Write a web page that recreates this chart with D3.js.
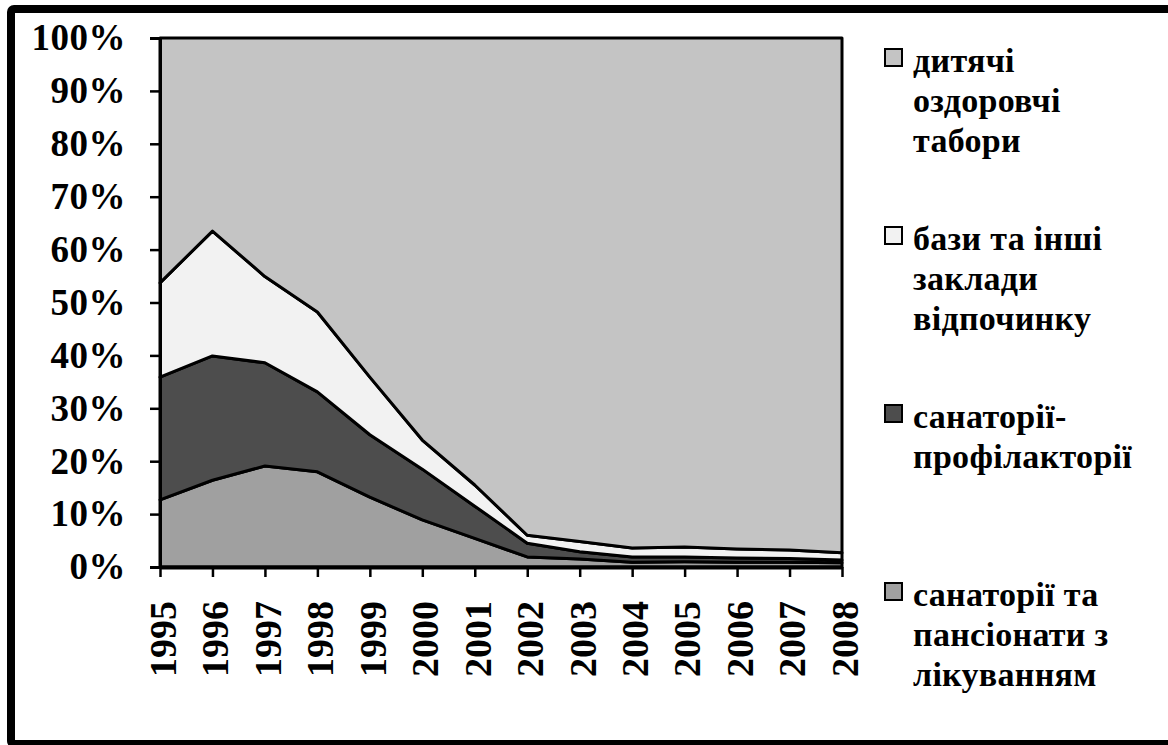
<!DOCTYPE html>
<html>
<head>
<meta charset="utf-8">
<script src="https://cdn.jsdelivr.net/npm/d3@7"></script>
<style>
  body { margin: 0; background: #fff; }
  svg { display: block; }
</style>
</head>
<body>
<svg id="chart" width="1168" height="745"></svg>
<script>
// values, % share of each type by year
var years = ["1995","1996","1997","1998","1999","2000","2001","2002","2003","2004","2005","2006","2007","2008"];
var sanatorii     = [12.7, 16.4, 19.1, 18.0, 13.2, 8.9, 5.4, 1.9, 1.5, 0.9, 1.0, 0.9, 0.9, 0.8];
var profilaktorii = [23.2, 23.5, 19.5, 15.1, 11.8, 9.6, 6.1, 2.6, 1.4, 1.0, 0.9, 0.8, 0.7, 0.5];
var bazy          = [17.8, 23.6, 16.3, 15.1, 10.9, 5.5, 4.0, 1.5, 1.9, 1.7, 1.9, 1.7, 1.6, 1.4];
var tabory        = [46.3, 36.5, 45.1, 51.8, 64.1, 76.0, 84.5, 94.0, 95.2, 96.4, 96.2, 96.6, 96.8, 97.3];

var keys = ["sanatorii", "profilaktorii", "bazy", "tabory"];
var colors = { sanatorii: "#a0a0a0", profilaktorii: "#4d4d4d", bazy: "#f2f2f2", tabory: "#c4c4c4" };
var legendLabels = {
    tabory: ["дитячі", "оздоровчі", "табори"],
    bazy: ["бази та  інші", "заклади", "відпочинку"],
    profilaktorii: ["санаторії-", "профілакторії"],
    sanatorii: ["санаторії та", "пансіонати з", "лікуванням"]
};
var font = "'Liberation Serif'";

var rows = years.map(function(y, i) {
    return { year: y, sanatorii: sanatorii[i], profilaktorii: profilaktorii[i], bazy: bazy[i], tabory: tabory[i] };
});

var svg = d3.select("#chart");

// outer frame
svg.append("rect")
    .attr("x", 11).attr("y", 9)
    .attr("width", 1170).attr("height", 735)
    .attr("rx", 3)
    .attr("fill", "#fff")
    .attr("stroke", "#000")
    .attr("stroke-width", 8);

var x = d3.scalePoint().domain(years).range([160, 842]);
var y = d3.scaleLinear().domain([0, 1]).range([567, 38]);

var series = d3.stack().keys(keys).offset(d3.stackOffsetExpand)(rows);

var area = d3.area()
    .x(function(d) { return x(d.data.year); })
    .y0(function(d) { return y(d[0]); })
    .y1(function(d) { return y(d[1]); });

svg.append("g").selectAll("path")
    .data(series)
    .join("path")
    .attr("d", area)
    .attr("fill", function(d) { return colors[d.key]; })
    .attr("stroke", "#000")
    .attr("stroke-width", 3)
    .attr("stroke-linejoin", "round");

// y axis
var yAxis = svg.append("g")
    .attr("transform", "translate(160,0)")
    .call(d3.axisLeft(y).tickValues(d3.range(0, 1.01, 0.1)).tickFormat(d3.format(".0%")).tickSize(10).tickPadding(24));
yAxis.select(".domain").attr("stroke-width", 3);
yAxis.selectAll(".tick line").attr("stroke-width", 2.5);
yAxis.selectAll("text")
    .style("font-size", "37px")
    .style("font-family", font)
    .style("font-weight", "bold")
    .style("letter-spacing", "0.5px");

// x axis
var xAxis = svg.append("g")
    .attr("transform", "translate(0,567)")
    .call(d3.axisBottom(x).tickSize(10).tickSizeOuter(0));
xAxis.select(".domain").attr("stroke-width", 4);
xAxis.selectAll(".tick line").attr("stroke-width", 2.5);
xAxis.selectAll("text")
    .style("font-size", "38px")
    .style("font-family", font)
    .style("font-weight", "bold")
    .attr("text-anchor", "end")
    .attr("transform", "rotate(-90)")
    .attr("x", -34)
    .attr("y", 2)
    .attr("dy", "0.35em");

// legend, top to bottom
var legendOrder = ["tabory", "bazy", "profilaktorii", "sanatorii"];
var legend = svg.append("g").selectAll("g")
    .data(legendOrder)
    .join("g")
    .attr("transform", function(d, i) { return "translate(885," + (49 + i * 178) + ")"; });

legend.append("rect")
    .attr("width", 17).attr("height", 17)
    .attr("fill", function(d) { return colors[d]; })
    .attr("stroke", "#000")
    .attr("stroke-width", 2);

legend.append("text")
    .attr("x", 28)
    .attr("y", 23)
    .style("font-size", "34px")
    .style("font-family", font)
    .style("font-weight", "bold")
    .style("letter-spacing", "0.3px")
    .selectAll("tspan")
    .data(function(d) { return legendLabels[d]; })
    .join("tspan")
    .attr("x", 28)
    .attr("dy", function(d, i) { return i === 0 ? 0 : 40; })
    .text(function(d) { return d; });
</script>
</body>
</html>
